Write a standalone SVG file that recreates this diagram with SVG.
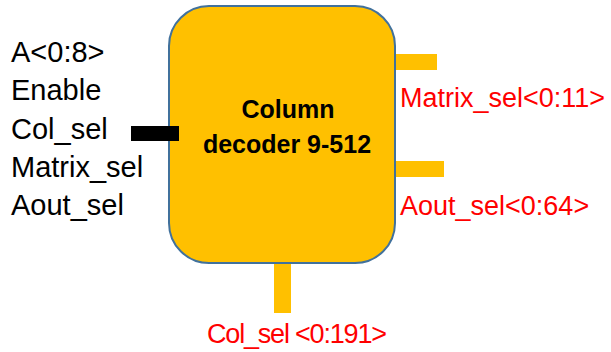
<svg xmlns="http://www.w3.org/2000/svg" width="611" height="352" viewBox="0 0 611 352">
<style>
.lbl{font-family:"Liberation Sans",Arial,sans-serif;font-size:29px;fill:#000}
.out{font-family:"Liberation Sans",Arial,sans-serif;font-size:27px;fill:#FF0000}
.title{font-family:"Liberation Sans",Arial,sans-serif;font-size:25px;font-weight:bold;fill:#000;text-anchor:middle}
.stub{fill:#FFC000}
</style>
<rect width="611" height="352" fill="#fff"/>
<g id="inputs">
<text class="lbl" x="11" y="62">A&lt;0:8&gt;</text>
<text class="lbl" x="11" y="100">Enable</text>
<text class="lbl" x="11" y="139">Col_sel</text>
<text class="lbl" x="11" y="177">Matrix_sel</text>
<text class="lbl" x="11" y="215">Aout_sel</text>
</g>
<g id="decoder">
<rect x="169" y="6" width="226" height="257" rx="40" ry="40" fill="#FFC000" stroke="#41719C" stroke-width="2"/>
<text class="title" x="288" y="118">Column</text>
<text class="title" x="287" y="153">decoder 9-512</text>
</g>
<g id="connectors">
<rect x="131" y="126" width="48" height="15" fill="#000"/>
<rect class="stub" x="396" y="54" width="41" height="16"/>
<rect class="stub" x="396" y="161" width="48" height="16"/>
<rect class="stub" x="274" y="264" width="17" height="49"/>
</g>
<g id="outputs">
<text class="out" x="400" y="107">Matrix_sel&lt;0:11&gt;</text>
<text class="out" x="400" y="215">Aout_sel&lt;0:64&gt;</text>
<text class="out" x="207" y="343" textLength="180">Col_sel &lt;0:191&gt;</text>
</g>
</svg>
